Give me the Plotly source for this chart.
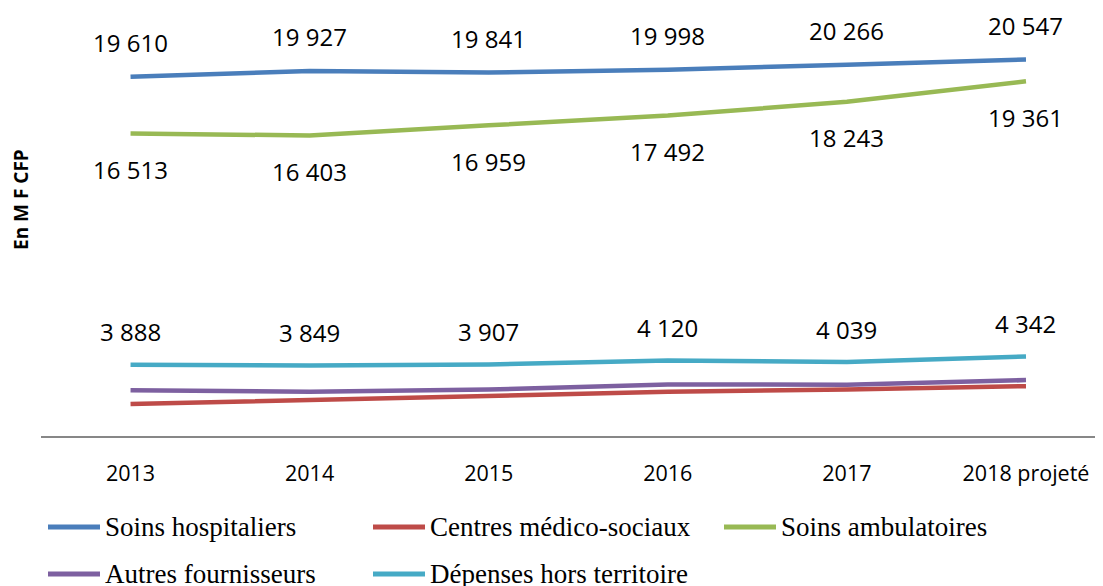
import plotly.graph_objects as go

years = ["2013", "2014", "2015", "2016", "2017", "2018 projeté"]
soins_hosp = [19610, 19927, 19841, 19998, 20266, 20547]
centres_ms = [1740, 1980, 2210, 2410, 2540, 2720]
soins_amb = [16513, 16403, 16959, 17492, 18243, 19361]
autres_f = [2500, 2410, 2540, 2810, 2800, 3050]
dep_hors = [3888, 3849, 3907, 4120, 4039, 4342]

names = ["Soins hospitaliers", "Centres médico-sociaux", "Soins ambulatoires",
         "Autres fournisseurs", "Dépenses hors territoire"]
colors = ["#4A7EBB", "#BE4B48", "#98B954", "#7D60A0", "#46AAC5"]
series = [soins_hosp, centres_ms, soins_amb, autres_f, dep_hors]

OFF = 8  # page body margin
W, H = 1103 - OFF, 586 - OFF
ML, MR, MT, MB = 33, 0, 0, 150
PW, PH = W - ML - MR, H - MT - MB
PX_PER_UNIT = 0.01832

fig = go.Figure()
for name, col, vals in zip(names, colors, series):
    fig.add_trace(go.Scatter(x=years, y=vals, mode="lines", name=name,
                             line=dict(color=col, width=4.5), showlegend=False))

def fmt(v):
    return f"{v:,}".replace(",", " ")

annotations = []
label_font = dict(family="Open Sans", size=24, color="#000000")
for vals, shift in [(soins_hosp, 34), (soins_amb, -36), (dep_hors, 33)]:
    for i, v in enumerate(vals):
        annotations.append(dict(x=i, y=v, xref="x", yref="y", text=fmt(v),
                                showarrow=False, yshift=shift, yanchor="middle",
                                xanchor="center", font=label_font))

def px2paper(px, py):
    return (px - OFF - ML) / PW, (OFF + MT + PH - py) / PH

# y-axis title
tx, ty = px2paper(21, 200)
annotations.append(dict(x=tx, y=ty, xref="paper", yref="paper", text="<b>En M F CFP</b>",
                        textangle=-90, showarrow=False, xanchor="center", yanchor="middle",
                        font=dict(family="Open Sans", size=19, color="#000000")))

# custom legend
legend_pos = [(48, 527), (373, 527), (724, 527), (48, 574), (373, 574)]
shapes = []
for (lx, ly), name, col in zip(legend_pos, names, colors):
    x0, y0 = px2paper(lx, ly)
    x1, _ = px2paper(lx + 52, ly)
    shapes.append(dict(type="line", xref="paper", yref="paper", x0=x0, x1=x1, y0=y0, y1=y0,
                       line=dict(color=col, width=5)))
    tx, ty = px2paper(lx + 55, ly)
    annotations.append(dict(x=tx, y=ty, xref="paper", yref="paper", text=name,
                            showarrow=False, xanchor="left", yanchor="middle",
                            font=dict(family="Liberation Serif", size=27, color="#000000")))

fig.update_layout(
    width=W, height=H,
    margin=dict(l=ML, r=MR, t=MT, b=MB),
    plot_bgcolor="white", paper_bgcolor="white",
    showlegend=False,
    annotations=annotations, shapes=shapes,
    xaxis=dict(type="category", range=[-0.5, 5.43], showline=True, linecolor="#878787",
               linewidth=1.5, showgrid=False, zeroline=False, ticks="",
               tickfont=dict(family="Open Sans", size=21.5, color="#000000"),
               ticklabelstandoff=17),
    yaxis=dict(range=[0, PH / PX_PER_UNIT], showticklabels=False, showgrid=False,
               zeroline=False, showline=False, ticks=""),
)
fig.write_html("out.html")
